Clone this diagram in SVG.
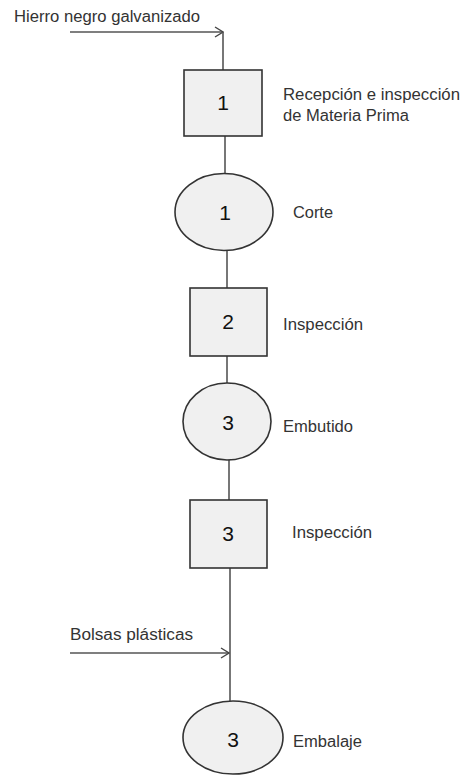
<svg xmlns="http://www.w3.org/2000/svg" width="462" height="776" viewBox="0 0 462 776">
  <style>
    .node { fill: #f0f0f0; stroke: #333; stroke-width: 1.6; }
    .num { font-family: "Liberation Sans", Arial, sans-serif; font-size: 21px; fill: #111; text-anchor: middle; }
    .lbl { font-family: "Liberation Sans", Arial, sans-serif; font-size: 16px; fill: #333; }
    .link { stroke: #555; stroke-width: 1.6; fill: none; }
  </style>
  <defs>
    <marker id="open-arrow" markerWidth="10" markerHeight="12" refX="9" refY="6" orient="auto" markerUnits="userSpaceOnUse">
      <polyline points="1,1 9,6 1,11" fill="none" stroke="#444" stroke-width="1.4"/>
    </marker>
  </defs>
  <rect width="462" height="776" fill="#fff"/>

  <!-- flow connectors -->
  <g id="connectors">
    <line class="link" x1="70" y1="32" x2="223" y2="32" marker-end="url(#open-arrow)"/>
    <line class="link" x1="223" y1="32" x2="223" y2="70"/>
    <line class="link" x1="225" y1="136" x2="225" y2="174"/>
    <line class="link" x1="227" y1="251" x2="227" y2="288"/>
    <line class="link" x1="227" y1="356" x2="227" y2="383"/>
    <line class="link" x1="229" y1="460" x2="229" y2="500"/>
    <line class="link" x1="230" y1="568" x2="230" y2="701"/>
    <line class="link" x1="70" y1="653" x2="229" y2="653" marker-end="url(#open-arrow)"/>
  </g>

  <!-- inputs -->
  <text id="input-hierro" class="lbl" x="14" y="22" textLength="186" lengthAdjust="spacingAndGlyphs">Hierro negro galvanizado</text>
  <text id="input-bolsas" class="lbl" x="70" y="640" textLength="123" lengthAdjust="spacingAndGlyphs">Bolsas plásticas</text>

  <g id="step-recepcion">
    <rect class="node" x="184" y="70" width="78" height="66"/>
    <text class="num" x="223" y="110">1</text>
    <text class="lbl" x="283" y="100" textLength="177" lengthAdjust="spacingAndGlyphs">Recepción e inspección</text>
    <text class="lbl" x="283" y="121" textLength="126" lengthAdjust="spacingAndGlyphs">de Materia Prima</text>
  </g>

  <g id="step-corte">
    <ellipse class="node" cx="224" cy="212" rx="49" ry="38.5"/>
    <text class="num" x="225" y="220">1</text>
    <text class="lbl" x="293" y="218" textLength="40" lengthAdjust="spacingAndGlyphs">Corte</text>
  </g>

  <g id="step-inspeccion-2">
    <rect class="node" x="190" y="288" width="77" height="68"/>
    <text class="num" x="228" y="329">2</text>
    <text class="lbl" x="283" y="330" textLength="80" lengthAdjust="spacingAndGlyphs">Inspección</text>
  </g>

  <g id="step-embutido">
    <ellipse class="node" cx="227" cy="421.5" rx="44" ry="38.5"/>
    <text class="num" x="228" y="430">3</text>
    <text class="lbl" x="283" y="432" textLength="70" lengthAdjust="spacingAndGlyphs">Embutido</text>
  </g>

  <g id="step-inspeccion-3">
    <rect class="node" x="190" y="500" width="77" height="68"/>
    <text class="num" x="228" y="541">3</text>
    <text class="lbl" x="292" y="538" textLength="80" lengthAdjust="spacingAndGlyphs">Inspección</text>
  </g>

  <g id="step-embalaje">
    <ellipse class="node" cx="233" cy="737.5" rx="50" ry="36.5"/>
    <text class="num" x="233" y="747">3</text>
    <text class="lbl" x="293" y="747" textLength="69" lengthAdjust="spacingAndGlyphs">Embalaje</text>
  </g>
</svg>
